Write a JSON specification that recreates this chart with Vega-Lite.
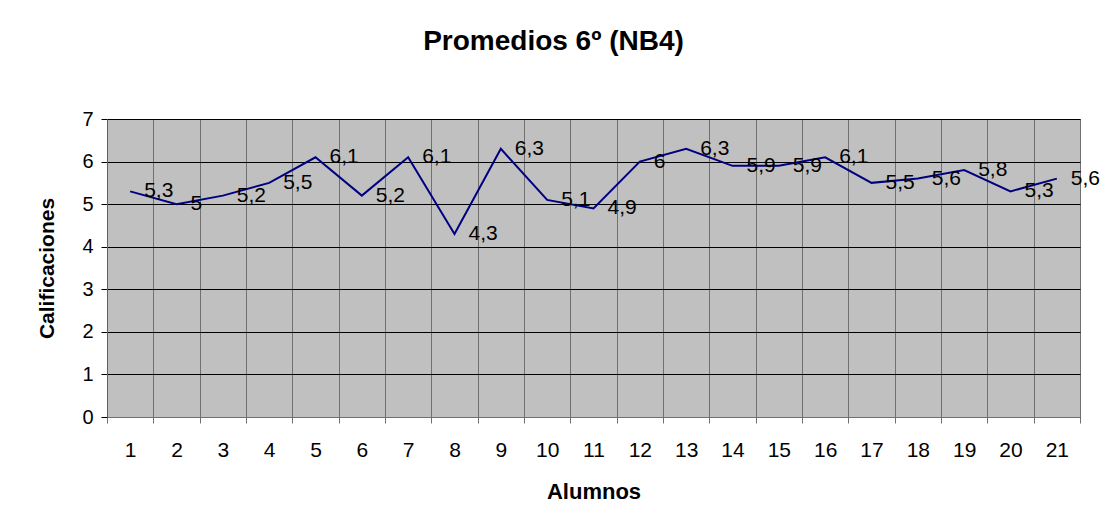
{
  "$schema": "https://vega.github.io/schema/vega-lite/v6.json",
  "width": 973,
  "height": 298,
  "autosize": {"type": "none"},
  "padding": {"left": 107, "top": 119, "right": 22, "bottom": 114},
  "background": "white",
  "config": {
    "locale": {"number": {"decimal": ",", "thousands": ".", "grouping": [3], "currency": ["", " €"]}},
    "font": "Liberation Sans",
    "view": {"fill": "#C0C0C0", "stroke": "#808080", "strokeWidth": 1}
  },
  "title": {
    "text": "Promedios 6º (NB4)",
    "font": "Liberation Sans",
    "fontSize": 28,
    "fontWeight": "bold",
    "color": "black",
    "anchor": "middle",
    "dx": -40,
    "baseline": "alphabetic",
    "offset": 31
  },
  "data": {
    "values": [
      {"alumno": 1, "promedio": 5.3},
      {"alumno": 2, "promedio": 5.0},
      {"alumno": 3, "promedio": 5.2},
      {"alumno": 4, "promedio": 5.5},
      {"alumno": 5, "promedio": 6.1},
      {"alumno": 6, "promedio": 5.2},
      {"alumno": 7, "promedio": 6.1},
      {"alumno": 8, "promedio": 4.3},
      {"alumno": 9, "promedio": 6.3},
      {"alumno": 10, "promedio": 5.1},
      {"alumno": 11, "promedio": 4.9},
      {"alumno": 12, "promedio": 6.0},
      {"alumno": 13, "promedio": 6.3},
      {"alumno": 14, "promedio": 5.9},
      {"alumno": 15, "promedio": 5.9},
      {"alumno": 16, "promedio": 6.1},
      {"alumno": 17, "promedio": 5.5},
      {"alumno": 18, "promedio": 5.6},
      {"alumno": 19, "promedio": 5.8},
      {"alumno": 20, "promedio": 5.3},
      {"alumno": 21, "promedio": 5.6}
    ]
  },
  "encoding": {
    "x": {
      "field": "alumno",
      "type": "quantitative",
      "scale": {"domain": [0.5, 21.5], "nice": false, "zero": false},
      "axis": {
        "values": [0.5, 1.5, 2.5, 3.5, 4.5, 5.5, 6.5, 7.5, 8.5, 9.5, 10.5, 11.5, 12.5, 13.5, 14.5, 15.5, 16.5, 17.5, 18.5, 19.5, 20.5, 21.5],
        "labelExpr": "datum.value < 21 ? format(datum.value + 0.5, 'd') : ''",
        "labelOffset": 23.17,
        "labelFlush": false,
        "labelOverlap": false,
        "labelFontSize": 21,
        "labelColor": "black",
        "labelBaseline": "alphabetic",
        "labelPadding": 33,
        "grid": true,
        "gridColor": "#707070",
        "gridWidth": 1,
        "gridOpacity": 1,
        "tickColor": "#707070",
        "tickSize": 6,
        "domainColor": "#707070",
        "title": "Alumnos",
        "titleFontSize": 22,
        "titleFontWeight": "bold",
        "titleColor": "black",
        "titleX": 486.5,
        "titleY": 81,
        "titleAlign": "center",
        "titleBaseline": "alphabetic"
      }
    },
    "y": {
      "field": "promedio",
      "type": "quantitative",
      "scale": {"domain": [0, 7], "nice": false},
      "axis": {
        "values": [0, 1, 2, 3, 4, 5, 6, 7],
        "labelFontSize": 20,
        "labelColor": "black",
        "labelPadding": 8,
        "grid": true,
        "gridColor": "black",
        "gridWidth": 1,
        "gridOpacity": 1,
        "tickColor": "black",
        "tickSize": 6,
        "domainColor": "#606060",
        "title": "Calificaciones",
        "titleFontSize": 21,
        "titleFontWeight": "bold",
        "titleColor": "black",
        "titleX": -60,
        "titleY": 149,
        "titleAngle": -90,
        "titleAlign": "center",
        "titleBaseline": "middle"
      }
    }
  },
  "layer": [
    {"mark": {"type": "line", "color": "#000080", "strokeWidth": 2}},
    {
      "mark": {"type": "text", "align": "left", "baseline": "middle", "dx": 14, "fontSize": 21, "color": "black"},
      "encoding": {"text": {"field": "promedio", "type": "quantitative", "format": ".1~f"}}
    }
  ]
}
